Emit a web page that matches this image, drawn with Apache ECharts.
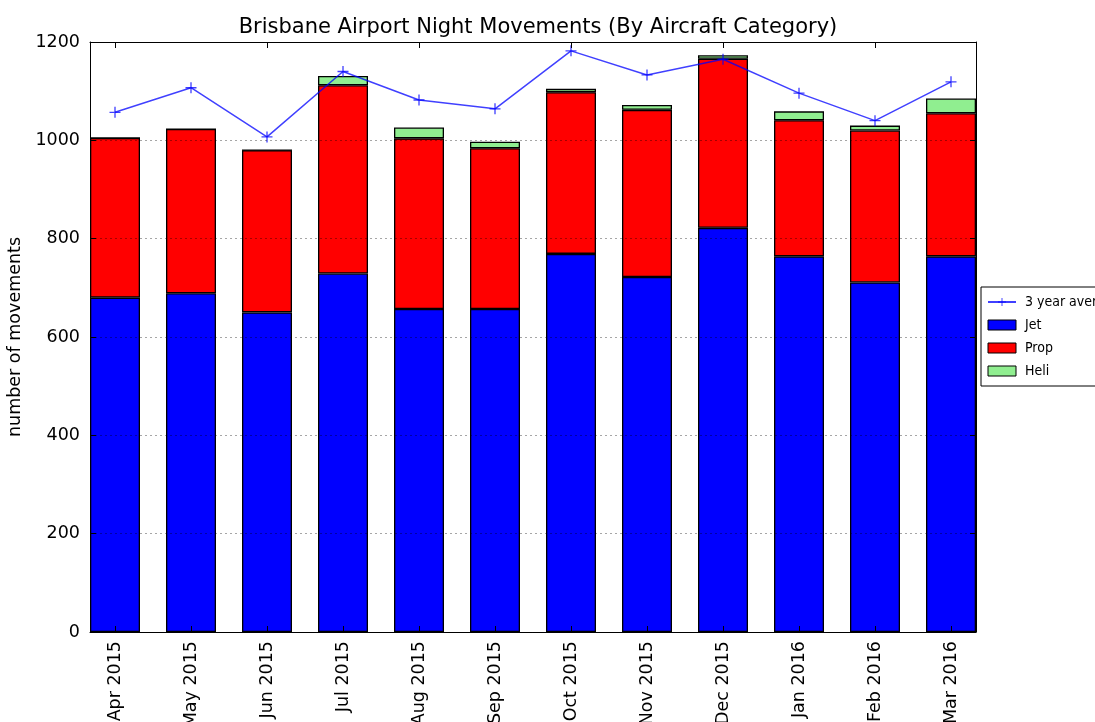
<!DOCTYPE html>
<html>
<head>
<meta charset="utf-8">
<script src="https://cdn.jsdelivr.net/npm/echarts@6/dist/echarts.min.js"></script>
<style>
html,body{margin:0;padding:0;background:#fff;}
#chart{width:1095px;height:722px;}
</style>
</head>
<body>
<div id="chart"></div>
<script>
const months = ['Apr 2015','May 2015','Jun 2015','Jul 2015','Aug 2015','Sep 2015','Oct 2015','Nov 2015','Dec 2015','Jan 2016','Feb 2016','Mar 2016'];
const jet  = [680, 689, 650, 729, 657, 657, 769, 722, 822, 764, 711, 764];
const prop = [325, 334, 330, 383, 347, 327, 329, 340, 344, 277, 309, 291];
const heli = [0, 0, 0, 19, 22, 13, 7, 10, 7, 18, 10, 30];
const avg3 = [1057, 1107, 1007, 1140, 1082, 1064, 1182, 1133, 1165, 1096, 1040, 1119];
const yTicks = [0, 200, 400, 600, 800, 1000, 1200];

const FONT = 'DejaVu Sans';
const NARROW = 'Liberation Sans Narrow, DejaVu Sans Condensed, Roboto Condensed, DejaVu Sans';
const chart = echarts.init(document.getElementById('chart'), null, {renderer: 'canvas'});
const plusSym = 'path://M0,4.4h10v1.2h-10z M4.4,0h1.2v10h-1.2z';
const frameLine = {show: true, onZero: false, lineStyle: {color: '#000', width: 1}};

chart.setOption({
  animation: false,
  backgroundColor: '#fff',
  textStyle: {fontFamily: FONT},
  title: {
    text: 'Brisbane Airport Night Movements (By Aircraft Category)',
    left: 533, top: 12, textAlign: 'center',
    textStyle: {fontFamily: FONT, fontSize: 21, fontWeight: 'normal', color: '#000'}
  },
  legend: {
    orient: 'vertical',
    left: 981, top: 287,
    padding: [8, 6, 8, 6],
    itemGap: 9,
    itemWidth: 28, itemHeight: 10,
    borderColor: '#000', borderWidth: 1,
    backgroundColor: '#fff',
    textStyle: {fontFamily: NARROW, fontSize: 14, color: '#000', padding: [0, 0, 0, 4]},
    data: [
      {name: '3 year average'},
      {name: 'Jet', icon: 'rect', itemStyle: {borderColor: '#000', borderWidth: 1}},
      {name: 'Prop', icon: 'rect', itemStyle: {borderColor: '#000', borderWidth: 1}},
      {name: 'Heli', icon: 'rect', itemStyle: {borderColor: '#000', borderWidth: 1}}
    ]
  },
  grid: [
    {left: 90, top: 42, width: 886, height: 590, containLabel: false, outerBoundsMode: 'none'},
    {left: 77, top: 42, width: 912, height: 590, containLabel: false, outerBoundsMode: 'none'}
  ],
  xAxis: [
    {gridIndex: 0, type: 'value', min: 0, max: 1, position: 'bottom', z: 10,
     axisLine: frameLine, axisTick: {show: false}, axisLabel: {show: false}, splitLine: {show: false}},
    {gridIndex: 0, type: 'value', min: 0, max: 1, position: 'top', z: 10,
     axisLine: frameLine, axisTick: {show: false}, axisLabel: {show: false}, splitLine: {show: false}},
    {gridIndex: 1, type: 'category', data: months, position: 'bottom', boundaryGap: true, z: 10,
     axisLine: {show: false},
     axisTick: {show: true, inside: true, alignWithLabel: true, length: 6, lineStyle: {color: '#000'}},
     axisLabel: {rotate: 90, fontSize: 17.5, color: '#000', margin: 9, fontFamily: FONT, interval: 0},
     splitLine: {show: false}},
    {gridIndex: 1, type: 'category', data: months, position: 'top', boundaryGap: true, z: 10,
     axisLine: {show: false},
     axisTick: {show: true, inside: true, alignWithLabel: true, length: 6, lineStyle: {color: '#000'}},
     axisLabel: {show: false}, splitLine: {show: false}}
  ],
  yAxis: [
    {gridIndex: 0, type: 'value', min: yTicks[0], max: yTicks[yTicks.length - 1], interval: 200, position: 'left', z: 10,
     name: 'number of movements', nameLocation: 'middle', nameGap: 63, nameRotate: 90,
     nameTextStyle: {fontFamily: FONT, fontSize: 17.5, color: '#000'},
     axisLine: frameLine,
     axisTick: {show: true, inside: true, length: 6, lineStyle: {color: '#000'}},
     axisLabel: {fontSize: 17.5, color: '#000', margin: 10, fontFamily: FONT, formatter: v => String(v)},
     splitLine: {show: true, lineStyle: {color: 'rgba(0,0,0,0.35)', width: 1, type: [2, 3]}}},
    {gridIndex: 0, type: 'value', min: yTicks[0], max: yTicks[yTicks.length - 1], interval: 200, position: 'right', z: 10,
     axisLine: frameLine,
     axisTick: {show: true, inside: true, length: 6, lineStyle: {color: '#000'}},
     axisLabel: {show: false}, splitLine: {show: false}},
    {gridIndex: 1, type: 'value', min: yTicks[0], max: yTicks[yTicks.length - 1], show: false}
  ],
  series: [
    {name: 'Jet', type: 'bar', stack: 'cat', xAxisIndex: 2, yAxisIndex: 2, data: jet, barWidth: 50,
     itemStyle: {color: '#0000ff', borderColor: '#000', borderWidth: 1.3}},
    {name: 'Prop', type: 'bar', stack: 'cat', xAxisIndex: 2, yAxisIndex: 2, data: prop, barWidth: 50,
     itemStyle: {color: '#ff0000', borderColor: '#000', borderWidth: 1.3}},
    {name: 'Heli', type: 'bar', stack: 'cat', xAxisIndex: 2, yAxisIndex: 2, data: heli, barWidth: 50,
     itemStyle: {color: '#90ee90', borderColor: '#000', borderWidth: 1.3}},
    {name: '3 year average', type: 'line', xAxisIndex: 2, yAxisIndex: 2, data: avg3, z: 5,
     symbol: plusSym, symbolSize: 11, showAllSymbol: true,
     lineStyle: {color: 'rgba(0,0,255,0.75)', width: 1.5},
     itemStyle: {color: 'rgba(0,0,255,0.75)'}}
  ]
});
</script>
</body>
</html>
